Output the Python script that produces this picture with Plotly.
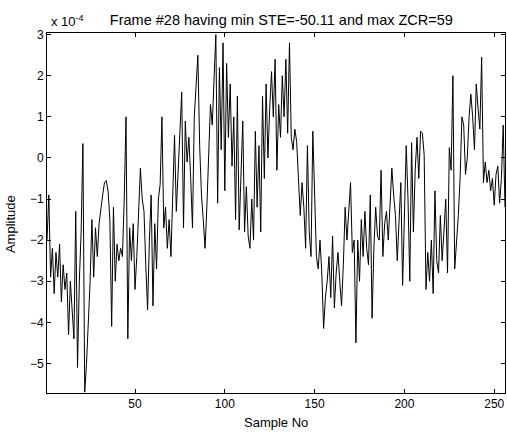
import plotly.graph_objects as go

# Amplitude values in units of 1e-4, samples 1..256
amp_1_50 = [-2.0, -0.9, -2.9, -2.2, -3.3, -2.3, -2.9, -2.1, -3.5, -2.6,
            -3.2, -2.8, -4.3, -3.0, -3.7, -4.4, -1.3, -5.1, -3.0, -1.8,
            0.35, -5.7, -5.0, -4.0, -3.0, -1.5, -2.9, -1.7, -2.4, -1.6,
            -1.2, -0.9, -0.6, -0.55, -0.8, -1.5, -4.1, -1.2, -3.0, -2.1,
            -2.5, -2.2, -2.4, -1.0, 1.0, -4.4, -1.7, -2.5, -1.6, -3.2]
amp_51_100 = [-2.4, -1.5, -0.25, -1.0, -1.3, -2.6, -3.7, -2.0, -0.9, -3.6,
              -1.6, -2.7, -1.0, -0.65, 1.0, -1.7, -1.2, -2.2, -1.5, -2.4,
              -0.8, 0.55, -1.3, -0.3, 0.3, 1.6, -1.7, 0.9, -0.1, 0.5,
              -0.5, -1.7, 1.0, 1.9, 2.5, 0.3, -0.9, -1.5, -2.2, -1.2,
              0.2, 1.3, 0.8, 1.8, 3.0, -1.1, 2.2, 0.2, 2.8, -0.8]
amp_101_150 = [2.3, 0.5, 1.8, -0.2, 1.0, -1.5, 1.5, -1.75, -0.5, 0.9,
               -1.8, -0.7, -1.9, -2.2, -1.0, -2.0, 0.65, -1.2, 0.3, -1.8,
               1.5, -0.5, 1.8, 0.0, 1.2, 2.1, 1.0, 2.4, -0.3, 1.3,
               0.5, 2.0, 1.0, 2.4, 0.6, 2.8, 0.5, 0.2, 0.7, 0.4,
               -0.5, -1.4, -0.6, -1.2, -2.2, 0.3, -1.8, -2.4, 0.65, -1.0]
amp_151_200 = [-2.4, -2.7, -2.0, -2.8, -4.15, -3.4, -3.0, -2.4, -3.4, -1.9,
               -3.65, -2.8, -2.3, -3.0, -3.6, -2.6, -1.2, -2.0, -1.3, -0.6,
               -2.3, -2.0, -4.5, -2.0, -3.0, -1.5, -2.4, -1.3, -2.2, -2.6,
               -0.9, -3.9, -2.2, -1.2, -1.9, -2.0, -0.3, -2.4, -1.6, -1.3,
               -2.0, -1.0, -0.25, -0.9, -1.4, -2.5, -1.5, -0.6, -3.1, -1.0]
amp_201_256 = [0.3, -1.0, -3.0, 0.37, -1.8, -0.3, 0.5, -0.5, 0.65, 0.6,
               0.07, -3.2, -2.3, -3.0, -2.0, -3.3, -0.8, -2.5, -2.8, -1.4,
               -2.5, -1.8, -1.0, -2.8, 0.25, -0.3, 2.0, -2.7, -2.1, -1.4,
               -0.5, 1.0, 0.8, -0.4, 0.0, 1.0, 1.55, 1.0, 0.2, 1.8,
               1.2, 0.7, 2.45, -0.6, -0.1, -0.6, -0.3, -0.8, -0.5, -1.15,
               -0.4, -0.2, -1.1, -0.5, 0.8, -1.2]

amplitude = amp_1_50 + amp_51_100 + amp_101_150 + amp_151_200 + amp_201_256
samples = list(range(1, len(amplitude) + 1))

x_ticks = [50, 100, 150, 200, 250]
y_ticks = [-5, -4, -3, -2, -1, 0, 1, 2, 3]

font_family = "Liberation Sans, Arial, sans-serif"

fig = go.Figure()
fig.add_trace(go.Scatter(x=samples, y=amplitude, mode="lines",
                         line=dict(color="black", width=1), showlegend=False,
                         hoverinfo="skip"))

axis_common = dict(showline=True, linecolor="black", linewidth=1, mirror="ticks",
                   ticks="inside", ticklen=4, tickcolor="black", showgrid=False,
                   zeroline=False, tickfont=dict(size=12, color="black", family=font_family))

fig.update_layout(
    width=507, height=434,
    margin=dict(l=47, r=2, t=33, b=41),
    paper_bgcolor="white", plot_bgcolor="white",
    font=dict(family=font_family, color="black", size=12),
    title=dict(text="Frame #28 having min STE=-50.11 and max ZCR=59",
               x=0.555, xanchor="center", y=0.955, yanchor="middle",
               font=dict(size=14.5, color="black")),
    xaxis=dict(range=[1, 256], tickvals=x_ticks, **axis_common),
    yaxis=dict(range=[-5.72, 3.04], tickvals=y_ticks, **axis_common),
    annotations=[
        dict(text="x 10<sup>-4</sup>", xref="paper", yref="paper",
             x=0.005, y=1.005, xanchor="left", yanchor="bottom",
             showarrow=False, font=dict(size=13, color="black")),
        dict(text="Sample No", xref="paper", yref="paper",
             x=0.5, y=-0.081, xanchor="center", yanchor="middle",
             showarrow=False, font=dict(size=13, color="black")),
        dict(text="Amplitude", xref="paper", yref="paper",
             x=-0.078, y=0.47, xanchor="center", yanchor="middle", textangle=-90,
             showarrow=False, font=dict(size=13, color="black")),
    ],
)

fig.write_html("out.html", config={"displayModeBar": False},
               post_script="document.body.style.margin='0';document.body.style.overflow='hidden';")
